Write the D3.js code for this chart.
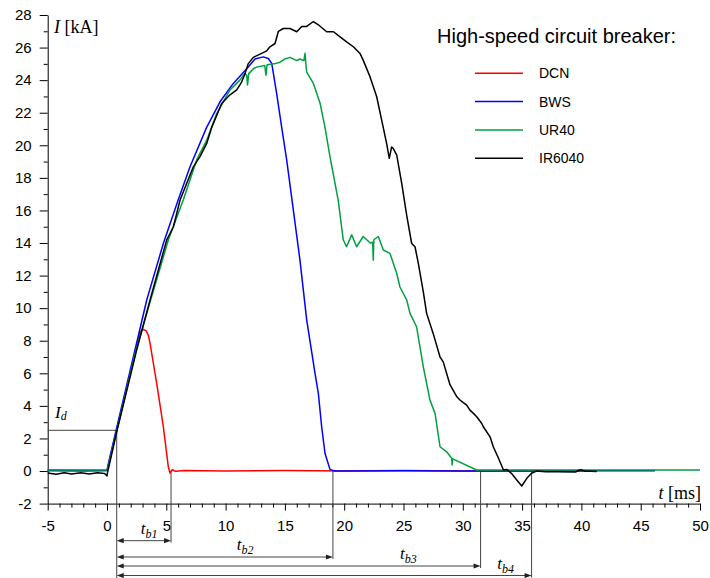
<!DOCTYPE html>
<html>
<head>
<meta charset="utf-8">
<script src="https://d3js.org/d3.v7.min.js"></script>
<style>
  body { margin: 0; background: white; }
  .tick text { font-family: "Liberation Sans", Arial, sans-serif; font-size: 15px; fill: #000; }
</style>
</head>
<body>
<div id="chart"></div>
<script>
// data: [t (ms), I (kA)]
const dcn = [[-5,0.02],[-2,0.0],[0,0.02],[0.3,0.9],[0.82,2.5],[2,6.1],[2.78,8.55],[3.06,8.7],[3.3,8.6],[3.48,8.35],[3.63,7.84],[4.19,5.38],[4.75,2.72],[5.17,0.26],[5.31,-0.12],[5.5,0.08],[5.8,-0.02],[6.5,0.03],[10,0.0],[15,0.03],[20,0.0],[25,0.03],[30,0.0],[35,0.02],[41,0.0]]
const bws = [[-5,0.05],[-2,0.04],[0,0.05],[0.1,0.4],[0.8,2.6],[2.36,7.43],[3.35,10.5],[4.75,13.97],[6.0,16.64],[7.0,18.68],[8.4,21.1],[9.53,22.67],[10.65,23.8],[11.78,24.7],[12.48,25.3],[13.18,25.43],[13.6,25.33],[13.89,25.03],[14.3,23.2],[14.73,21.1],[15.15,19.1],[16.27,12.95],[16.84,9.27],[17.54,6.0],[17.82,4.77],[18.1,2.72],[18.38,1.09],[18.8,0.1],[19.2,0.0],[25,0.02],[30,0.0],[35,0.0],[40,0.02],[46.2,0.02]]
const ur40 = [[-5,0.07],[-2,0.06],[0,0.07],[0.15,0.4],[0.8,2.4],[2.4,7.3],[3.6,10.3],[5.17,14.18],[6.43,16.64],[7.56,19.1],[8.4,20.3],[9.25,21.95],[10.37,23.4],[11.2,24.0],[11.6,24.4],[11.78,24.3],[11.85,23.7],[11.95,24.4],[12.34,24.7],[12.62,24.8],[13.3,24.9],[13.4,24.3],[13.5,24.95],[14.1,25.0],[14.59,25.1],[15.0,25.3],[15.43,25.4],[16.0,25.2],[16.27,25.3],[16.6,25.2],[16.7,25.65],[16.8,24.7],[16.84,24.5],[17.4,23.8],[17.96,22.6],[18.38,21.1],[18.8,19.3],[19.5,16.6],[19.92,14.2],[20.2,13.77],[20.63,14.5],[21.05,13.77],[21.6,14.4],[22.2,14.0],[22.4,14.05],[22.45,12.95],[22.5,14.2],[22.87,14.4],[23.3,13.57],[23.86,13.36],[24.43,12.13],[24.7,11.3],[25.27,10.5],[25.55,9.68],[26.1,8.86],[26.67,6.4],[27.23,4.36],[27.66,3.54],[28.08,1.49],[28.64,1.18],[29.06,0.78],[29.1,0.37],[29.15,0.75],[31.17,0.06],[35,0.06],[40,0.06],[45,0.06],[50,0.06]]
const ir6040 = [[-5,-0.12],[-4.3,-0.2],[-3.6,-0.1],[-3,-0.18],[-2.2,-0.1],[-1.5,-0.18],[-0.8,-0.1],[-0.2,-0.15],[0,-0.3],[0.03,-0.14],[0.82,2.4],[2.5,7.43],[3.63,10.5],[5.03,14.18],[5.6,15.0],[6.16,16.64],[7.28,18.68],[7.84,19.3],[8.4,20.1],[8.83,21.1],[9.67,22.57],[10.37,23.1],[10.94,23.4],[11.36,23.9],[11.64,24.4],[11.9,25.0],[12.34,25.4],[12.9,25.6],[13.47,25.8],[13.74,26.05],[14.17,26.25],[14.45,27.0],[14.87,27.17],[15.43,27.17],[16.0,26.97],[16.42,27.3],[16.84,27.3],[17.4,27.6],[17.82,27.4],[18.52,26.97],[19.1,26.97],[19.65,26.66],[20.2,26.35],[20.77,26.05],[21.33,25.64],[21.6,25.23],[22.18,24.2],[22.74,22.98],[23.16,21.55],[23.58,20.1],[23.8,19.2],[24.0,19.9],[24.14,19.8],[24.43,19.4],[24.85,17.66],[25.27,15.7],[25.69,13.97],[25.97,13.77],[26.25,12.75],[26.67,11.0],[26.95,9.68],[27.5,8.45],[28.08,7.0],[28.35,6.7],[28.92,5.3],[29.5,4.56],[29.76,4.36],[30.04,4.2],[30.33,4.05],[30.6,3.74],[30.9,3.54],[31.17,3.33],[31.6,2.92],[31.73,2.72],[32.3,2.1],[32.57,1.49],[33.0,0.8],[33.43,0.06],[33.7,0.1],[34.1,-0.14],[34.55,-0.55],[34.97,-0.92],[35.4,-0.45],[35.8,-0.14],[36.2,0.0],[37,-0.05],[38,-0.04],[39.5,-0.06],[39.9,0.08],[40.3,0.0],[41.3,-0.03]]

const seriesNames = ['DCN', 'BWS', 'UR40', 'IR6040']
const seriesData = [dcn, bws, ur40, ir6040]
const seriesColors = ['#ff0000', '#0000ff', '#00a040', '#000000']

const yTicks = d3.range(-2, 29, 2)
const xTicks = d3.range(-5, 51, 5)

// annotation: I_d level and break times
const Id = 2.5
const tId = 0.82
const tBreak = [5.4, 19.05, 31.5, 35.8]
const tbLabels = ['b1', 'b2', 'b3', 'b4']
const tbLabelAt = [2.84, 10.95, 24.7, 32.9]

const W = 710, H = 578
const x = d3.scaleLinear().domain([-5, 50]).range([47.7, 700])
const y = d3.scaleLinear().domain([-2, 28]).range([503.6, 15])

const svg = d3.select('#chart').append('svg')
  .attr('width', W).attr('height', H)
  .attr('font-family', '"Liberation Sans", Arial, sans-serif')

// axes (hyphen minus like the original)
const fmt = d => String(d)
svg.append('g').attr('transform', `translate(${x(-5)},0)`)
  .call(d3.axisLeft(y).tickValues(yTicks).tickSize(8).tickPadding(8).tickSizeOuter(0).tickFormat(fmt))
svg.append('g').attr('transform', `translate(${x(-5)},0)`)
  .call(d3.axisLeft(y).tickValues(d3.range(-1, 28, 2)).tickSize(4).tickFormat('').tickSizeOuter(0))
  .select('.domain').remove()

svg.append('g').attr('transform', `translate(0,${y(-2)})`)
  .call(d3.axisBottom(x).tickValues(xTicks).tickSize(7).tickPadding(10).tickSizeOuter(0).tickFormat(fmt))
svg.append('g').attr('transform', `translate(0,${y(-2)})`)
  .call(d3.axisBottom(x).tickValues(d3.range(-5, 51, 1).filter(d => d % 5 !== 0)).tickSize(4).tickFormat('').tickSizeOuter(0))
  .select('.domain').remove()
svg.selectAll('.domain, .tick line').attr('stroke', '#000')

// axis titles
const yt = svg.append('text').attr('x', 54).attr('y', 33)
  .attr('font-family', '"Liberation Serif", "Times New Roman", serif').attr('font-size', 18)
yt.append('tspan').attr('font-style', 'italic').text('I')
yt.append('tspan').text(' [kA]')
const xt = svg.append('text').attr('x', 701).attr('y', 499).attr('text-anchor', 'end')
  .attr('font-family', '"Liberation Serif", "Times New Roman", serif').attr('font-size', 18)
xt.append('tspan').attr('font-style', 'italic').text('t')
xt.append('tspan').text(' [ms]')

// annotation lines
const ann = svg.append('g').attr('stroke', '#444').attr('stroke-width', 1).attr('fill', 'none')
ann.append('line').attr('x1', x(-5)).attr('x2', x(tId)).attr('y1', y(Id)).attr('y2', y(Id))
ann.append('line').attr('x1', x(tId)).attr('x2', x(tId)).attr('y1', y(Id)).attr('y2', H)

const arrowY = [540.7, 557, 566, 575.5]
tBreak.forEach((t, i) => {
  ann.append('line').attr('x1', x(t)).attr('x2', x(t)).attr('y1', y(0)).attr('y2', arrowY[i] + 2)
  ann.append('line').attr('x1', x(tId) + 6).attr('x2', x(t) - 6).attr('y1', arrowY[i]).attr('y2', arrowY[i])
  svg.append('path').attr('fill', '#222')
    .attr('d', `M${x(tId)},${arrowY[i]} l7,-2.6 v5.2 Z M${x(t)},${arrowY[i]} l-7,-2.6 v5.2 Z`)
  const lab = svg.append('text').attr('x', x(tbLabelAt[i])).attr('y', arrowY[i] - 7)
    .attr('font-family', '"Liberation Serif", "Times New Roman", serif').attr('font-style', 'italic').attr('font-size', 17)
  lab.append('tspan').text('t')
  lab.append('tspan').attr('font-size', 12).attr('dy', 4).text(tbLabels[i])
})

const idl = svg.append('text').attr('x', 55).attr('y', 418)
  .attr('font-family', '"Liberation Serif", "Times New Roman", serif').attr('font-style', 'italic').attr('font-size', 17)
idl.append('tspan').text('I')
idl.append('tspan').attr('font-size', 12).attr('dy', 2).text('d')

// curves
const line = d3.line().x(d => x(d[0])).y(d => y(d[1]))
svg.append('g').selectAll('path')
  .data(seriesData)
  .join('path')
    .attr('d', line)
    .attr('fill', 'none')
    .attr('stroke', (d, i) => seriesColors[i])
    .attr('stroke-width', 1.5)
    .attr('stroke-linejoin', 'round')

// legend
svg.append('text').attr('x', 437).attr('y', 43).attr('font-size', 20).text('High-speed circuit breaker:')
const leg = svg.append('g').selectAll('g').data(seriesNames).join('g')
  .attr('transform', (d, i) => `translate(475,${73.3 + i * 28.3})`)
leg.append('line').attr('x1', 0).attr('x2', 48).attr('stroke', (d, i) => seriesColors[i]).attr('stroke-width', 1.5)
leg.append('text').attr('x', 64).attr('y', 5).attr('font-size', 14).text(d => d)
</script>
</body>
</html>
